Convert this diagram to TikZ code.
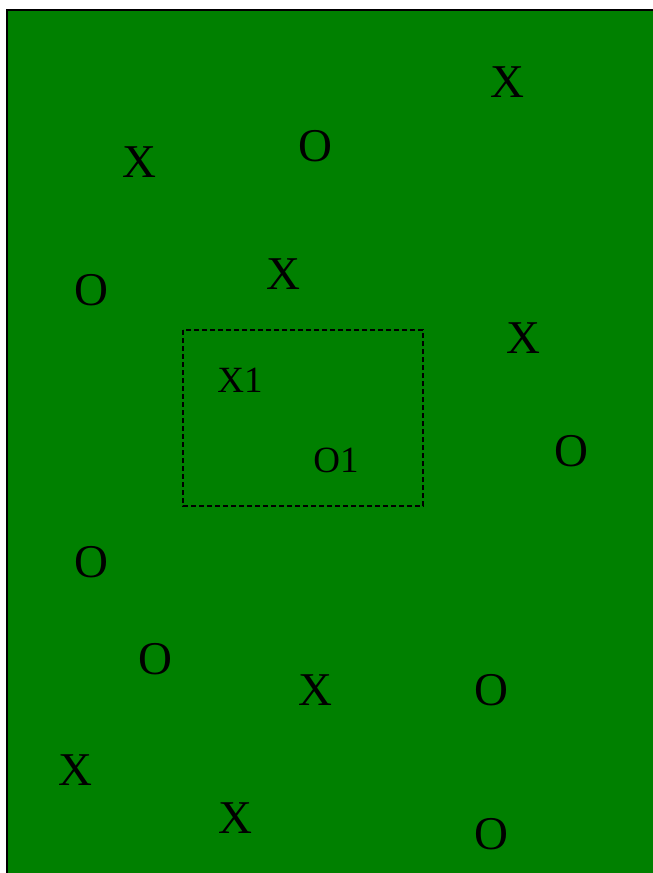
\documentclass[tikz,border=0pt]{standalone}
\usepackage{fontspec}
\setmainfont{Liberation Serif}
\definecolor{bggreen}{HTML}{008000}
\begin{document}
\begin{tikzpicture}[x=1pt,y=-1pt,
  bigmark/.style={inner sep=0pt, font=\fontsize{47}{47}\selectfont},
  smallmark/.style={inner sep=0pt, font=\fontsize{37}{37}\selectfont}]
\useasboundingbox (0,0) rectangle (653,873);
\draw[line width=2pt, fill=bggreen] (7,10) rectangle (665,885);
\draw[line width=1.3pt, dash pattern=on 5pt off 3pt] (183,330) rectangle (423,506);
\node[bigmark] (x1) at (507,82) {X};
\node[bigmark] (x2) at (139,162) {X};
\node[bigmark] (o1) at (315,146) {O};
\node[bigmark] (o2) at (91,290) {O};
\node[bigmark] (x3) at (283,274) {X};
\node[bigmark] (x4) at (523,338) {X};
\node[smallmark] (sx) at (240,380) {X1};
\node[smallmark] (so) at (336,460) {O1};
\node[bigmark] (o3) at (571,451) {O};
\node[bigmark] (o4) at (91,562) {O};
\node[bigmark] (o5) at (155,659) {O};
\node[bigmark] (x5) at (315,690) {X};
\node[bigmark] (o6) at (491,690) {O};
\node[bigmark] (x6) at (75,770) {X};
\node[bigmark] (x7) at (235,818) {X};
\node[bigmark] (o7) at (491,834) {O};
\end{tikzpicture}
\end{document}
